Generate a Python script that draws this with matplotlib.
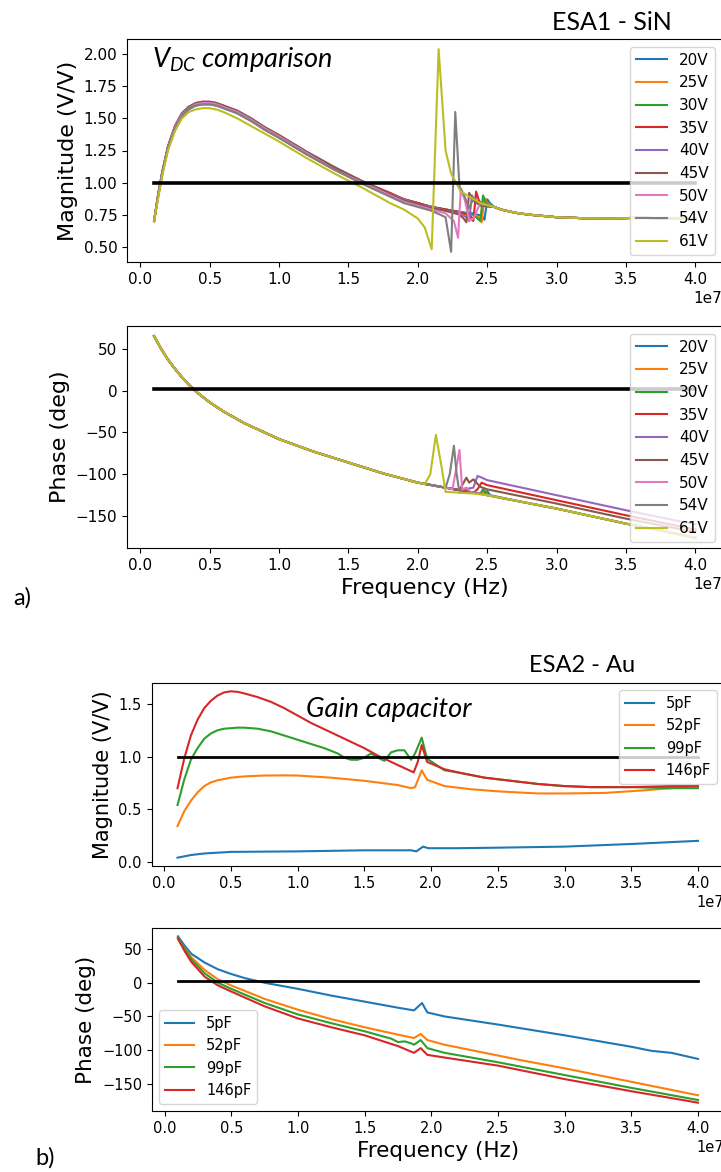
import matplotlib
matplotlib.use('Agg')
import matplotlib.pyplot as plt
import numpy as np

# ---------------- ESA1 - SiN : V_DC sweep (frequencies in MHz) ----------------
volt_labels = ['20V', '25V', '30V', '35V', '40V', '45V', '50V', '54V', '61V']

f_mag_low = [1, 1.3, 1.6, 2, 2.5, 3, 3.5, 4, 4.5, 5, 5.5, 6, 7, 8, 9, 10, 12, 14, 16, 18, 19, 20]
mag_low = [
    [0.70, 0.90, 1.07, 1.26, 1.42, 1.52, 1.57, 1.60, 1.61, 1.61, 1.60, 1.58, 1.54, 1.48, 1.41, 1.35, 1.22, 1.10, 1.00, 0.91, 0.87, 0.84],
    [0.70, 0.90, 1.08, 1.27, 1.42, 1.52, 1.58, 1.60, 1.61, 1.61, 1.60, 1.59, 1.54, 1.48, 1.41, 1.35, 1.22, 1.10, 1.00, 0.91, 0.87, 0.84],
    [0.70, 0.90, 1.08, 1.27, 1.43, 1.53, 1.58, 1.61, 1.62, 1.62, 1.61, 1.59, 1.55, 1.49, 1.42, 1.36, 1.23, 1.11, 1.01, 0.91, 0.87, 0.84],
    [0.70, 0.91, 1.08, 1.28, 1.43, 1.53, 1.59, 1.61, 1.62, 1.62, 1.61, 1.60, 1.55, 1.49, 1.42, 1.36, 1.23, 1.11, 1.01, 0.92, 0.87, 0.84],
    [0.70, 0.91, 1.09, 1.28, 1.44, 1.54, 1.59, 1.62, 1.63, 1.63, 1.62, 1.60, 1.56, 1.50, 1.43, 1.37, 1.24, 1.12, 1.01, 0.91, 0.87, 0.83],
    [0.70, 0.91, 1.09, 1.28, 1.44, 1.54, 1.59, 1.62, 1.63, 1.63, 1.62, 1.60, 1.56, 1.50, 1.43, 1.37, 1.24, 1.12, 1.01, 0.91, 0.86, 0.83],
    [0.70, 0.90, 1.08, 1.27, 1.43, 1.53, 1.58, 1.61, 1.62, 1.62, 1.61, 1.59, 1.55, 1.49, 1.42, 1.36, 1.23, 1.10, 1.00, 0.90, 0.85, 0.82],
    [0.70, 0.90, 1.08, 1.27, 1.42, 1.52, 1.58, 1.60, 1.61, 1.61, 1.60, 1.58, 1.54, 1.48, 1.41, 1.35, 1.22, 1.10, 0.99, 0.89, 0.84, 0.81],
    [0.70, 0.88, 1.06, 1.25, 1.40, 1.50, 1.55, 1.57, 1.58, 1.58, 1.57, 1.55, 1.50, 1.44, 1.38, 1.32, 1.19, 1.07, 0.96, 0.84, 0.79, 0.72],
]
# resonance region, one list per voltage
f_mag_res = [
    [21, 22, 23, 24, 24.6, 24.8, 25.0, 25.2, 25.5],
    [21, 22, 23, 24, 24.4, 24.6, 24.8, 25.0, 25.5],
    [21, 22, 23, 24, 24.3, 24.5, 24.7, 24.9, 25.5],
    [21, 22, 23, 23.8, 24.0, 24.2, 24.4, 24.7, 25.5],
    [21, 22, 23, 23.5, 23.7, 23.9, 24.2, 24.7, 25.5],
    [21, 22, 23, 23.3, 23.5, 23.7, 24.0, 24.5, 25.5],
    [21, 22, 22.6, 22.9, 23.1, 23.4, 23.7, 24.0, 24.5, 25.5],
    [21, 22, 22.4, 22.7, 23.0, 23.3, 23.7, 24.0, 24.5, 25.5],
    [20.5, 21.0, 21.5, 22.0, 22.4, 23.1, 24.5, 25.5],
]
mag_res = [
    [0.81, 0.79, 0.77, 0.76, 0.74, 0.71, 0.87, 0.84, 0.81],
    [0.81, 0.79, 0.77, 0.75, 0.73, 0.69, 0.88, 0.84, 0.81],
    [0.81, 0.79, 0.77, 0.75, 0.72, 0.70, 0.90, 0.84, 0.81],
    [0.81, 0.79, 0.77, 0.74, 0.70, 0.93, 0.86, 0.82, 0.81],
    [0.81, 0.78, 0.76, 0.73, 0.70, 0.90, 0.85, 0.82, 0.81],
    [0.80, 0.78, 0.75, 0.72, 0.69, 0.92, 0.86, 0.82, 0.81],
    [0.79, 0.76, 0.70, 0.57, 0.95, 0.86, 0.70, 0.72, 0.84, 0.81],
    [0.78, 0.73, 0.46, 1.55, 0.97, 0.91, 0.80, 0.88, 0.83, 0.81],
    [0.65, 0.48, 2.04, 1.25, 1.07, 0.93, 0.84, 0.81],
]
f_mag_tail = [26, 27, 28, 29, 30, 32, 34, 36, 38, 40]
mag_tail = [0.79, 0.765, 0.75, 0.74, 0.73, 0.722, 0.72, 0.726, 0.72, 0.72]

f_ph_low = [1, 1.5, 2, 2.5, 3, 3.5, 4, 5, 6, 7.5, 10, 12.5, 15, 17.5, 20]
ph_low = [65, 50, 37, 26, 16, 7, -1, -14, -25, -39, -58, -73, -86, -99, -110]
f_ph_hi = [
    [21, 22, 23, 24, 24.8, 25.0, 25.2, 27.5, 30, 32.5, 35, 37.5, 40],
    [21, 22, 23, 24, 24.6, 24.8, 25.0, 27.5, 30, 32.5, 35, 37.5, 40],
    [21, 22, 23, 24, 24.5, 24.7, 25.0, 27.5, 30, 32.5, 35, 37.5, 40],
    [21, 22, 23, 24, 24.3, 24.6, 25.0, 30, 35, 40],
    [21, 22, 23, 24, 24.3, 24.6, 25.0, 30, 35, 40],
    [21, 22, 23, 23.3, 23.5, 23.7, 24.0, 24.5, 25.0, 30, 35, 40],
    [21, 22, 22.5, 22.8, 23.0, 23.2, 23.5, 23.8, 24.5, 25, 27.5, 30, 32.5, 35, 37.5, 40],
    [21, 22, 22.3, 22.6, 22.8, 23.0, 24.0, 25, 27.5, 30, 32.5, 35, 37.5, 40],
    [20.5, 20.9, 21.3, 21.7, 22.0, 23.0, 24.0, 25, 27.5, 30, 32.5, 35, 37.5, 40],
]
ph_hi = [
    [-113, -116, -119, -122, -124, -120, -125, -133, -141, -150, -159, -167, -176],
    [-113, -116, -119, -122, -123, -119, -125, -133, -141, -150, -159, -167, -176],
    [-113, -116, -119, -122, -123, -118, -125, -133, -141, -150, -159, -167, -176],
    [-113, -116, -119, -122, -118, -110, -113, -131, -149, -166],
    [-113, -116, -119, -116, -102, -104, -107, -125, -143, -160],
    [-113, -116, -119, -110, -104, -110, -106, -115, -118, -135, -153, -169],
    [-113, -116, -118, -90, -71, -118, -116, -121, -123, -125, -133, -141, -150, -159, -167, -176],
    [-113, -116, -100, -66, -100, -122, -122, -125, -133, -141, -150, -159, -167, -176],
    [-112, -100, -53, -90, -121, -122, -123, -125, -133, -141, -150, -159, -167, -176],
]

# ---------------- ESA2 - Au : gain capacitor sweep ----------------
cap_labels = ['5pF', '52pF', '99pF', '146pF']

f_mag_5 = [1, 2, 3, 5, 10, 15, 18.5, 18.9, 19.4, 19.8, 22, 25, 30, 35, 40]
mag_5 = [0.04, 0.065, 0.08, 0.095, 0.10, 0.11, 0.11, 0.10, 0.145, 0.13, 0.13, 0.135, 0.145, 0.17, 0.20]
f_mag_52 = [1, 1.5, 2, 2.5, 3, 3.5, 4, 5, 6, 7.5, 9, 10, 12.5, 15, 17.5, 18.5, 18.8, 19.3, 19.7, 21, 23,
            25, 28, 30, 33, 36, 40]
mag_52 = [0.34, 0.48, 0.58, 0.66, 0.72, 0.755, 0.775, 0.80, 0.812, 0.82, 0.822, 0.82, 0.80, 0.77, 0.73,
          0.70, 0.71, 0.87, 0.78, 0.72, 0.69, 0.67, 0.65, 0.65, 0.655, 0.68, 0.72]
f_mag_99 = [1, 1.5, 2, 2.5, 3, 3.5, 4, 4.5, 5, 5.5, 6, 7, 8, 9, 10, 11, 12, 13, 13.5, 14, 14.5, 15, 15.5,
            16, 16.5, 17, 17.5, 18, 18.5, 18.8, 19.3, 19.7, 21, 22, 24, 26, 28, 30, 32, 35, 38, 40]
mag_99 = [0.54, 0.78, 0.97, 1.08, 1.17, 1.22, 1.25, 1.265, 1.27, 1.275, 1.275, 1.265, 1.24, 1.20, 1.16,
          1.12, 1.08, 1.03, 0.99, 0.97, 0.97, 0.99, 1.03, 0.99, 0.96, 1.04, 1.06, 1.06, 0.97, 1.03, 1.18,
          0.98, 0.87, 0.85, 0.80, 0.77, 0.74, 0.72, 0.71, 0.71, 0.70, 0.70]
f_mag_146 = [1, 1.5, 2, 2.5, 3, 3.5, 4, 4.5, 5, 5.5, 6, 7, 8, 9, 10, 11, 12.5, 14, 15, 16, 17.5, 18.7,
             19.0, 19.3, 19.7, 21, 22, 24, 26, 28, 30, 32, 35, 38, 40]
mag_146 = [0.70, 0.98, 1.20, 1.35, 1.46, 1.53, 1.58, 1.61, 1.62, 1.615, 1.60, 1.565, 1.52, 1.46, 1.39,
           1.32, 1.23, 1.14, 1.08, 1.01, 0.92, 0.85, 0.95, 1.11, 0.95, 0.88, 0.85, 0.80, 0.77, 0.74,
           0.72, 0.71, 0.71, 0.72, 0.72]

f_ph_5 = [1, 1.5, 2, 3, 4, 5, 6, 7.5, 10, 12.5, 15, 17.5, 18.7, 19.3, 19.7, 21, 25, 30, 35, 36.5, 38, 40]
ph_5 = [69, 55, 43, 30, 20, 13, 7, 0, -9, -19, -28, -37, -41, -30, -44, -50, -62, -78, -95, -101, -104, -113]
f_ph_52 = [1, 1.5, 2, 3, 4, 5, 7.5, 10, 12.5, 15, 17.5, 18.7, 19.2, 19.7, 21, 25, 27, 30, 35, 40]
ph_52 = [66, 51, 38, 19, 5, -4, -24, -40, -54, -66, -77, -82, -76, -85, -92, -108, -116, -127, -147, -167]
f_ph_99 = [1, 1.5, 2, 3, 4, 5, 7.5, 10, 12.5, 15, 17, 17.5, 18, 18.5, 18.7, 19.2, 19.7, 21, 25, 30, 35, 40]
ph_99 = [67, 50, 35, 14, 0, -9, -30, -47, -60, -72, -83, -88, -87, -90, -92, -85, -97, -104, -118, -137, -156, -174]
f_ph_146 = [1, 1.5, 2, 3, 4, 5, 7.5, 10, 12.5, 15, 17.5, 18.7, 19.2, 19.7, 21, 25, 30, 35, 40]
ph_146 = [65, 47, 31, 9, -4, -13, -35, -53, -66, -78, -94, -104, -97, -107, -111, -123, -143, -161, -178]

ref_span = [1, 40]   # MHz, black reference lines
mag_ref = 1.0
ph_ref = 2.0

plt.rcParams['mathtext.fontset'] = 'custom'
plt.rcParams['mathtext.it'] = 'Lato:italic'
plt.rcParams['mathtext.rm'] = 'Lato'

W, H = 721, 1172
fig = plt.figure(figsize=(W / 100, H / 100), dpi=100)


def box(l, t, r, b):
    return [l / W, 1 - b / H, (r - l) / W, (b - t) / H]


def mhz(f):
    return np.array(f) * 1e6


ax1 = fig.add_axes(box(127, 39, 722.5, 262))
ax2 = fig.add_axes(box(127, 326, 722.5, 548))
ax3 = fig.add_axes(box(151.5, 683, 724, 866))
ax4 = fig.add_axes(box(152, 928, 724, 1111))

# panel a) magnitude
for i, lab in enumerate(volt_labels):
    ax1.plot(mhz(f_mag_low + f_mag_res[i] + f_mag_tail), mag_low[i] + mag_res[i] + mag_tail, label=lab)
ax1.plot(mhz(ref_span), [mag_ref, mag_ref], color='k', lw=2.6)
ax1.set_yticks([0.5, 0.75, 1.0, 1.25, 1.5, 1.75, 2.0])
ax1.set_ylabel('Magnitude (V/V)', fontsize=16)
ax1.tick_params(labelsize=11)
ax1.xaxis.get_offset_text().set_fontsize(11)
ax1.legend(loc='upper right', fontsize=11)

# panel a) phase
for i, lab in enumerate(volt_labels):
    ax2.plot(mhz(f_ph_low + f_ph_hi[i]), ph_low + ph_hi[i], label=lab)
ax2.plot(mhz(ref_span), [ph_ref, ph_ref], color='k', lw=2.6)
ax2.set_yticks([-150, -100, -50, 0, 50])
ax2.set_ylabel('Phase (deg)', fontsize=16)
ax2.set_xlabel('Frequency (Hz)', fontsize=16)
ax2.tick_params(labelsize=11)
ax2.xaxis.get_offset_text().set_fontsize(11)
ax2.legend(loc='upper right', fontsize=11)

# panel b) magnitude
for f, m, lab in zip([f_mag_5, f_mag_52, f_mag_99, f_mag_146], [mag_5, mag_52, mag_99, mag_146], cap_labels):
    ax3.plot(mhz(f), m, label=lab)
ax3.plot(mhz(ref_span), [mag_ref, mag_ref], color='k', lw=2.0)
ax3.set_yticks([0.0, 0.5, 1.0, 1.5])
ax3.set_ylabel('Magnitude (V/V)', fontsize=15)
ax3.tick_params(labelsize=10.5)
ax3.xaxis.get_offset_text().set_fontsize(10.5)
ax3.legend(loc='upper right', fontsize=10.5)

# panel b) phase
for f, p, lab in zip([f_ph_5, f_ph_52, f_ph_99, f_ph_146], [ph_5, ph_52, ph_99, ph_146], cap_labels):
    ax4.plot(mhz(f), p, label=lab)
ax4.plot(mhz(ref_span), [ph_ref, ph_ref], color='k', lw=2.0)
ax4.set_yticks([-150, -100, -50, 0, 50])
ax4.set_ylabel('Phase (deg)', fontsize=15.5)
ax4.set_xlabel('Frequency (Hz)', fontsize=15.5)
ax4.tick_params(labelsize=10.5)
ax4.xaxis.get_offset_text().set_fontsize(10.5)
ax4.legend(loc='lower left', fontsize=10.5)

# annotations
fig.text(612 / W, 1 - 22 / H, 'ESA1 - SiN', ha='center', va='center', fontsize=18, family='Lato')
fig.text(582 / W, 1 - 665 / H, 'ESA2 - Au', ha='center', va='center', fontsize=17, family='Lato')
fig.text(22 / W, 1 - 598 / H, 'a)', ha='center', va='center', fontsize=17, family='Lato')
fig.text(45 / W, 1 - 1158 / H, 'b)', ha='center', va='center', fontsize=17, family='Lato')
fig.text(152 / W, 1 - 67 / H, r'$V_{DC}$ comparison', ha='left', va='baseline', fontsize=19.5,
         family='Lato', style='italic')
fig.text(306 / W, 1 - 717 / H, 'Gain capacitor', ha='left', va='baseline', fontsize=19.5,
         family='Lato', style='italic')

fig.savefig('out.png', dpi=100)
